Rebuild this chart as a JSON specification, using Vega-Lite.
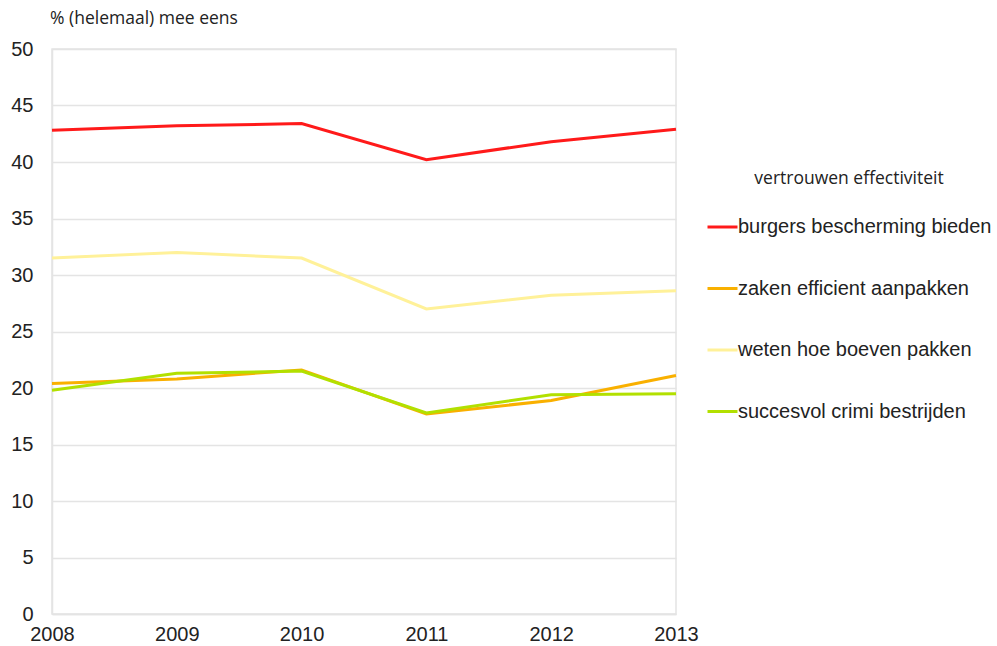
{
  "$schema": "https://vega.github.io/schema/vega-lite/v6.json",
  "width": 624,
  "height": 565,
  "autosize": {"type": "none"},
  "padding": {"left": 52, "top": 49, "right": 321, "bottom": 32},
  "background": "white",
  "title": {
    "text": "% (helemaal) mee eens",
    "anchor": "start",
    "frame": "group",
    "font": "Open Sans",
    "fontSize": 17.5,
    "fontWeight": "normal",
    "color": "#222222",
    "offset": 12,
    "dx": -2
  },
  "data": {
    "values": [
      {"jaar": 2008, "reeks": "burgers bescherming bieden", "pct": 42.8},
      {"jaar": 2009, "reeks": "burgers bescherming bieden", "pct": 43.2},
      {"jaar": 2010, "reeks": "burgers bescherming bieden", "pct": 43.4},
      {"jaar": 2011, "reeks": "burgers bescherming bieden", "pct": 40.2},
      {"jaar": 2012, "reeks": "burgers bescherming bieden", "pct": 41.8},
      {"jaar": 2013, "reeks": "burgers bescherming bieden", "pct": 42.9},
      {"jaar": 2008, "reeks": "zaken efficient aanpakken", "pct": 20.4},
      {"jaar": 2009, "reeks": "zaken efficient aanpakken", "pct": 20.8},
      {"jaar": 2010, "reeks": "zaken efficient aanpakken", "pct": 21.6},
      {"jaar": 2011, "reeks": "zaken efficient aanpakken", "pct": 17.7},
      {"jaar": 2012, "reeks": "zaken efficient aanpakken", "pct": 18.9},
      {"jaar": 2013, "reeks": "zaken efficient aanpakken", "pct": 21.1},
      {"jaar": 2008, "reeks": "weten hoe boeven pakken", "pct": 31.5},
      {"jaar": 2009, "reeks": "weten hoe boeven pakken", "pct": 32.0},
      {"jaar": 2010, "reeks": "weten hoe boeven pakken", "pct": 31.5},
      {"jaar": 2011, "reeks": "weten hoe boeven pakken", "pct": 27.0},
      {"jaar": 2012, "reeks": "weten hoe boeven pakken", "pct": 28.2},
      {"jaar": 2013, "reeks": "weten hoe boeven pakken", "pct": 28.6},
      {"jaar": 2008, "reeks": "succesvol crimi bestrijden", "pct": 19.8},
      {"jaar": 2009, "reeks": "succesvol crimi bestrijden", "pct": 21.3},
      {"jaar": 2010, "reeks": "succesvol crimi bestrijden", "pct": 21.5},
      {"jaar": 2011, "reeks": "succesvol crimi bestrijden", "pct": 17.8},
      {"jaar": 2012, "reeks": "succesvol crimi bestrijden", "pct": 19.4},
      {"jaar": 2013, "reeks": "succesvol crimi bestrijden", "pct": 19.5}
    ]
  },
  "mark": {"type": "line", "strokeWidth": 3},
  "encoding": {
    "x": {
      "field": "jaar",
      "type": "quantitative",
      "scale": {"domain": [2008, 2013], "nice": false, "zero": false},
      "axis": {
        "title": null,
        "format": "d",
        "values": [2008, 2009, 2010, 2011, 2012, 2013],
        "grid": false,
        "ticks": false,
        "labelPadding": 10,
        "labelFlush": false,
        "labelBound": false
      }
    },
    "y": {
      "field": "pct",
      "type": "quantitative",
      "scale": {"domain": [0, 50], "nice": false},
      "axis": {
        "title": null,
        "values": [0, 5, 10, 15, 20, 25, 30, 35, 40, 45, 50],
        "grid": true,
        "ticks": false,
        "labelPadding": 19
      }
    },
    "color": {
      "field": "reeks",
      "type": "nominal",
      "scale": {
        "domain": ["burgers bescherming bieden", "zaken efficient aanpakken", "weten hoe boeven pakken", "succesvol crimi bestrijden"],
        "range": ["#ff1a1a", "#f9b000", "#fff199", "#b2e000"]
      },
      "legend": {
        "title": "vertrouwen effectiviteit",
        "orient": "none",
        "legendX": 654,
        "legendY": 121,
        "padding": 0,
        "titleAnchor": "middle",
        "titleFont": "Open Sans",
        "titleFontSize": 17.5,
        "titleFontWeight": "normal",
        "titleColor": "#222222",
        "titleLimit": 400,
        "titlePadding": 23,
        "symbolType": "stroke",
        "symbolSize": 900,
        "symbolStrokeWidth": 3,
        "labelFont": "Liberation Sans",
        "labelFontSize": 20,
        "labelColor": "#222222",
        "labelOffset": -1,
        "labelLimit": 400,
        "rowPadding": 34.5
      }
    }
  },
  "config": {
    "view": {"stroke": "#e4e4e4", "strokeWidth": 1.5},
    "axis": {
      "labelFont": "Liberation Sans",
      "labelFontSize": 20,
      "labelColor": "#222222",
      "gridColor": "#e4e4e4",
      "gridWidth": 1.5,
      "domainColor": "#e4e4e4",
      "domainWidth": 1.5
    }
  }
}
